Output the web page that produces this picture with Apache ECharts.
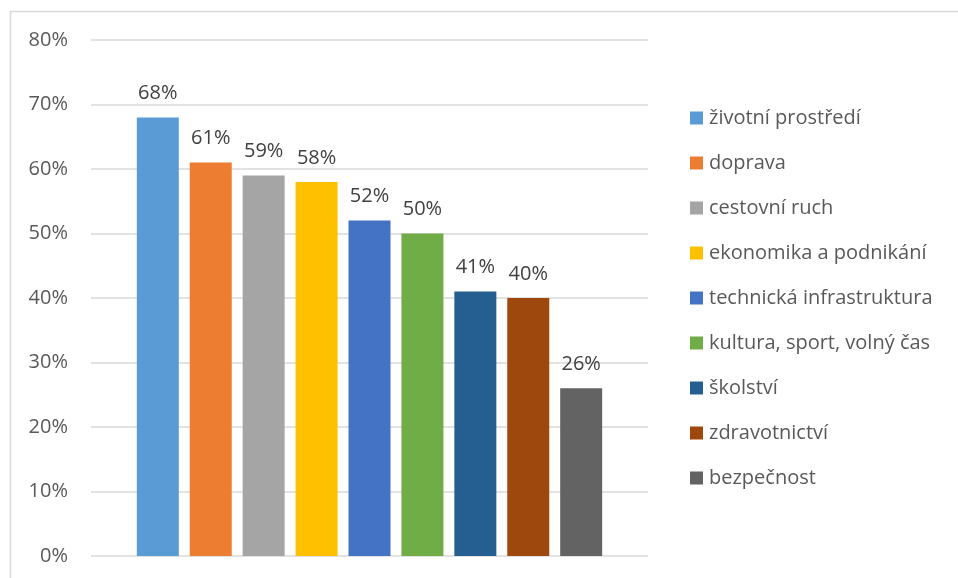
<!DOCTYPE html>
<html>
<head>
<meta charset="utf-8">
<script src="https://cdn.jsdelivr.net/npm/echarts@6/dist/echarts.min.js"></script>
<style>
  html, body { margin: 0; padding: 0; background: #fff; }
  #chart { width: 958px; height: 578px; }
</style>
</head>
<body>
<div id="chart"></div>
<script>
// data
var names = ['životní prostředí', 'doprava', 'cestovní ruch', 'ekonomika a podnikání',
  'technická infrastruktura', 'kultura, sport, volný čas', 'školství', 'zdravotnictví', 'bezpečnost'];
var values = [68, 61, 59, 58, 52, 50, 41, 40, 26];
var colors = ['#5b9bd5', '#ed7d31', '#a5a5a5', '#ffc000', '#4472c4', '#70ad47', '#255e91', '#9e480e', '#636363'];
var yTicks = [0, 10, 20, 30, 40, 50, 60, 70, 80];

var font = '"Open Sans", "DejaVu Sans", sans-serif';

var series = names.map(function (n, i) {
  return {
    name: n,
    type: 'bar',
    data: [values[i]],
    barWidth: 42,
    barGap: '26%',
    itemStyle: { color: colors[i] },
    label: {
      show: true,
      position: 'top',
      distance: 14,
      formatter: '{c}%',
      color: '#404040',
      fontSize: 20,
      fontFamily: font
    }
  };
});

var myChart = echarts.init(document.getElementById('chart'));
var option = {
  animation: false,
  color: colors,
  graphic: [{
    type: 'rect',
    shape: { x: 10.5, y: 11.5, width: 980, height: 600 },
    style: { fill: 'none', stroke: '#d9d9d9', lineWidth: 1.5 },
    silent: true
  }],
  legend: {
    orient: 'vertical',
    left: 685,
    top: 103,
    itemWidth: 13,
    itemHeight: 13,
    itemGap: 25,
    icon: 'rect',
    textStyle: { color: '#595959', fontSize: 20, fontFamily: font, padding: [0, 0, 0, 1] },
    data: names
  },
  grid: {
    left: 91,
    right: 310,
    top: 40,
    bottom: 22
  },
  xAxis: {
    type: 'category',
    data: [''],
    axisLine: { show: false },
    axisTick: { show: false },
    axisLabel: { show: false }
  },
  yAxis: {
    type: 'value',
    min: yTicks[0],
    max: yTicks[yTicks.length - 1],
    interval: 10,
    axisLine: { show: false },
    axisTick: { show: false },
    axisLabel: {
      formatter: '{value}%',
      color: '#595959',
      fontSize: 20,
      fontFamily: font,
      margin: 23
    },
    splitLine: { lineStyle: { color: '#d9d9d9', width: 1.5 } }
  },
  series: series
};
myChart.setOption(option);
window.addEventListener('resize', function () {
  myChart.resize();
}, false);
</script>
</body>
</html>
